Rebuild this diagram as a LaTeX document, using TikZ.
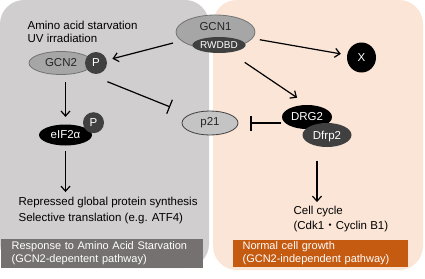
\documentclass[tikz,border=0pt]{standalone}
\usepackage{fontspec}
\setmainfont{Liberation Sans}
\newfontfamily\cjk{Noto Sans CJK JP}
\usepackage{xcolor}
\usepackage{tikz}
\usetikzlibrary{arrows.meta, shapes.geometric}
\definecolor{panelgray}{HTML}{D0CECE}
\definecolor{panelpeach}{HTML}{FBE5D6}
\definecolor{boxgray}{HTML}{767171}
\definecolor{boxorange}{HTML}{C55A11}
\definecolor{protgray}{HTML}{A6A6A6}
\definecolor{protlight}{HTML}{C4C4C4}
\definecolor{protdark}{HTML}{404040}
\tikzset{
    prot/.style={ellipse, draw=black!55, line width=0.8pt, fill=protgray, inner sep=0pt, text=black!85},
    blackp/.style={ellipse, fill=black, inner sep=0pt, text=white},
    phos/.style={circle, fill=protdark, inner sep=0pt, minimum size=22pt, text=white},
    panel/.style={rounded corners=24pt},
    capbox/.style={anchor=north west, text=white, align=left, inner ysep=0pt, font=\fontsize{11}{12.7}\selectfont},
    note/.style={anchor=west, align=left, inner sep=0pt},
    act/.style={-{Straight Barb[length=5pt,width=9pt]}},
    inh/.style={-{Bar[width=15pt]}},
    pw/.style={line width=1.2pt, font=\fontsize{11.5}{13}\selectfont, x=1pt, y=-1pt}
}

\begin{document}
\begin{tikzpicture}[pw]
    \useasboundingbox (0,0) rectangle (425,278);
    \fill[panelgray, panel] (0,0) rectangle (209,268);
    \fill[panelpeach, panel] (213,0) rectangle (423,270);

    \node[note, font=\fontsize{11.5}{13}\selectfont] (stress) at (27,31.5) {Amino acid starvation\\UV irradiation};
    \node[prot, minimum width=79pt, minimum height=34pt, label={[yshift=5pt, text=black!85]center:GCN1}] (gcn1) at (215.5,32) {};
    \node[blackp, fill=protdark, minimum width=48pt, minimum height=16pt, font=\fontsize{10}{12}\selectfont] (rwdbd) at (219,45) {RWDBD};
    \node[prot, minimum width=64pt, minimum height=23pt] (gcn2) at (61,63) {GCN2\hspace{6pt}};
    \node[phos] (pa) at (96,63) {P};
    \node[blackp, minimum width=29pt, minimum height=30pt] (x) at (361.5,57.5) {X};
    \node[blackp, minimum width=53pt, minimum height=21pt] (eif) at (65.5,135) {eIF2α};
    \node[phos, minimum size=21pt] (pb) at (93.5,122.7) {P};
    \node[prot, fill=protlight, draw=black!75, minimum width=56pt, minimum height=24pt] (p21) at (210,123) {p21};
    \node[blackp, minimum width=50pt, minimum height=24pt] (drg2) at (307,117) {DRG2};
    \node[blackp, fill=protdark, minimum width=49pt, minimum height=24pt, text depth=-1pt] (dfrp2) at (327,135) {Dfrp2};
    \node[note, font=\fontsize{11.5}{16}\selectfont] (rep) at (18,211) {Repressed global protein synthesis\\Selective translation (e.g. ATF4)};
    \node[note, font=\fontsize{11.5}{15}\selectfont] (cc) at (293,219.5) {Cell cycle\\(Cdk1{\cjk ・}Cyclin B1)};
    \node[capbox, fill=boxgray, minimum height=29pt, text width=180pt, inner xsep=11pt] (capa) at (0,238) {Response to Amino Acid Starvation\\(GCN2-depentent pathway)};
    \node[capbox, fill=boxorange, minimum height=27pt, text width=155pt, inner xsep=10pt] (capb) at (232,239) {Normal cell growth\\(GCN2-independent pathway)};

    \draw[act, shorten <=44pt, shorten >=17pt] (gcn1.center) -- (pa.center);
    \draw[act, shorten <=45pt, shorten >=21pt] (gcn1.center) -- (x.center);
    \draw[act, shorten <=31pt, shorten >=12pt] (rwdbd.center) -- (drg2.north);
    \draw[act, shorten <=7pt, shorten >=7pt] (gcn2.south -| eif) -- (eif.north);
    \draw[act, shorten <=5pt, shorten >=5pt] (eif.south) -- (eif.south |- rep.north);
    \draw[inh, shorten <=50pt, shorten >=43pt] (gcn2.center) -- (p21.center);
    \draw[inh, shorten >=12pt] (drg2.west |- p21.center) -- (p21.east);
    \draw[act, shorten <=13pt, shorten >=4pt] ([xshift=-10pt]dfrp2.south) -- ([xshift=-10pt]dfrp2.south |- cc.north);
\end{tikzpicture}
\end{document}
